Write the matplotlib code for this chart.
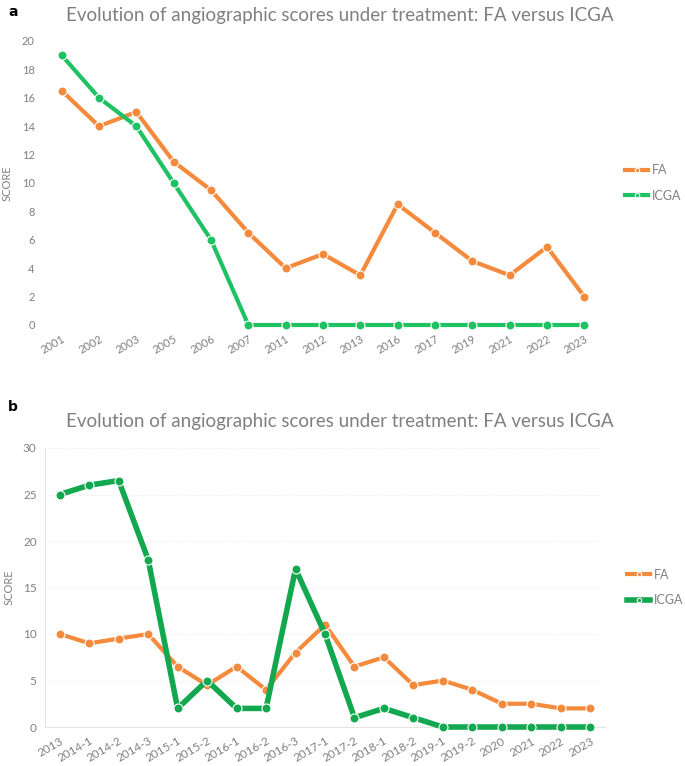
import numpy as np
import matplotlib
matplotlib.use("Agg")
import matplotlib.pyplot as plt

plt.rcParams['font.family'] = ['Lato', 'DejaVu Sans']

# panel a data
years_a = ["2001", "2002", "2003", "2005", "2006", "2007", "2011", "2012",
           "2013", "2016", "2017", "2019", "2021", "2022", "2023"]
fa_a = [16.5, 14, 15, 11.5, 9.5, 6.5, 4, 5, 3.5, 8.5, 6.5, 4.5, 3.5, 5.5, 2]
icga_a = [19, 16, 14, 10, 6, 0, 0, 0, 0, 0, 0, 0, 0, 0, 0]

# panel b data
visits_b = ["2013", "2014-1", "2014-2", "2014-3", "2015-1", "2015-2", "2016-1",
            "2016-2", "2016-3", "2017-1", "2017-2", "2018-1", "2018-2", "2019-1",
            "2019-2", "2020", "2021", "2022", "2023"]
fa_b = [10, 9, 9.5, 10, 6.5, 4.5, 6.5, 4, 8, 11, 6.5, 7.5, 4.5, 5, 4, 2.5, 2.5, 2, 2]
icga_b = [25, 26, 26.5, 18, 2, 5, 2, 2, 17, 10, 1, 2, 1, 0, 0, 0, 0, 0, 0]

title = "Evolution of angiographic scores under treatment: FA versus ICGA"
orange = "#F58A3D"
green_a = "#1EC263"
green_b = "#13A84F"
gray = "#808080"

W, H = 685, 766
fig = plt.figure(figsize=(W / 100, H / 100), dpi=100)


def px_axes(left, top, right, bottom):
    return fig.add_axes([left / W, 1 - bottom / H, (right - left) / W, (bottom - top) / H])


def draw(ax, labels, fa, icga, green, ymax, ystep, lw_g, fs):
    x = np.arange(len(labels))
    ax.plot(x, fa, color=orange, lw=3, marker='o', ms=6.5, mec='white', mew=0.8,
            label="FA", clip_on=False, zorder=3)
    ax.plot(x, icga, color=green, lw=lw_g, marker='o', ms=6.5, mec='white', mew=0.8,
            label="ICGA", clip_on=False, zorder=4)
    ax.set_xlim(-0.5, len(labels) - 0.5)
    ax.set_ylim(0, ymax)
    ax.set_yticks(np.arange(0, ymax + 0.1, ystep))
    ax.set_xticks(x)
    ax.set_xticklabels(labels, rotation=30, ha='right', rotation_mode='anchor')
    ax.tick_params(length=0, labelsize=fs, labelcolor=gray, pad=6)
    ax.set_ylabel("SCORE", fontsize=8, color=gray)
    ax.yaxis.set_label_coords(-0.055, 0.5)
    ax.legend(loc='center left', bbox_to_anchor=(1.02, 0.5), frameon=False,
              fontsize=9, labelcolor=gray, handlelength=1.8, labelspacing=1.1,
              handletextpad=0.3, markerscale=0.5)


# panel a
ax1 = px_axes(43, 41, 603, 325)
draw(ax1, years_a, fa_a, icga_a, green_a, 20, 2, 3, 8)
for s in ax1.spines.values():
    s.set_visible(False)
fig.text(8 / W, 1 - 12 / H, "a", fontsize=10, fontweight='bold', family='DejaVu Sans',
         va='center')
fig.text(340 / W, 1 - 15 / H, title, fontsize=13.5, color=gray, ha='center', va='center')

# panel b
ax2 = px_axes(45, 448, 605, 727)
draw(ax2, visits_b, fa_b, icga_b, green_b, 30, 5, 4, 8.5)
for k in ['top', 'right']:
    ax2.spines[k].set_visible(False)
for k in ['left', 'bottom']:
    ax2.spines[k].set_color('#E4E4E4')
ax2.grid(axis='y', color='#EDEDED', lw=0.8, ls=':')
fig.text(8 / W, 1 - 407 / H, "b", fontsize=10, fontweight='bold', family='DejaVu Sans',
         va='center')
fig.text(340 / W, 1 - 421 / H, title, fontsize=13.5, color=gray, ha='center', va='center')

fig.savefig("out.png", dpi=100)
